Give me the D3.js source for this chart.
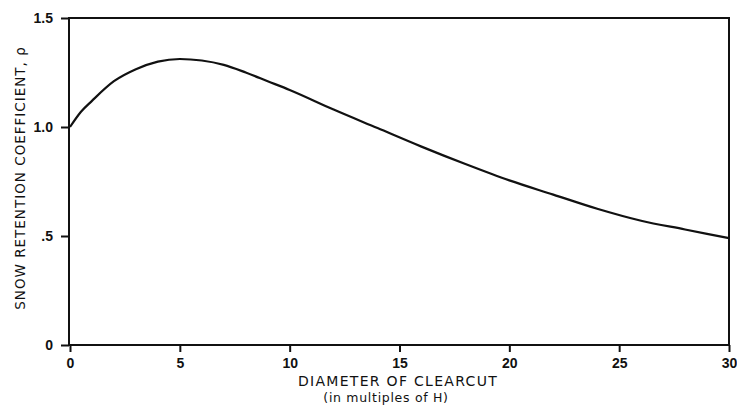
<!DOCTYPE html>
<html>
<head>
<meta charset="utf-8">
<script src="https://cdn.jsdelivr.net/npm/d3@7"></script>
<style>
  html, body { margin: 0; padding: 0; background: #fff; }
  text { font-family: "Liberation Sans", Arial, sans-serif; fill: #111; }
  .title { font-family: "DejaVu Sans", "Liberation Sans", sans-serif; }
</style>
</head>
<body>
<svg id="chart" width="737" height="406"></svg>
<script>
const diameter = [0, 0.5, 1, 2, 3, 4, 5, 6, 7, 8, 9, 10, 12, 14, 16, 18, 20, 22, 24, 26, 28, 30];
const rho = [1.00, 1.07, 1.12, 1.21, 1.265, 1.30, 1.312, 1.305, 1.285, 1.25, 1.21, 1.17, 1.08, 0.995, 0.91, 0.83, 0.755, 0.69, 0.625, 0.57, 0.53, 0.49];
const xTicks = [0, 5, 10, 15, 20, 25, 30];
const yTicks = [0, 0.5, 1.0, 1.5];
const yTickLabels = ["0", ".5", "1.0", "1.5"];
const xTitle = "DIAMETER OF CLEARCUT";
const xSubtitle = "(in multiples of H)";
const yTitle = "SNOW RETENTION COEFFICIENT, ρ";

const svg = d3.select("#chart");
const plotLeft = 69, plotRight = 729, plotTop = 18, plotBottom = 345;
const x = d3.scaleLinear().domain([0, 30]).range([plotLeft + 1, plotRight]);
const y = d3.scaleLinear().domain([0, 1.5]).range([plotBottom, plotTop]);

// frame
svg.append("rect")
  .attr("x", plotLeft).attr("y", plotTop)
  .attr("width", plotRight - plotLeft).attr("height", plotBottom - plotTop)
  .attr("fill", "none").attr("stroke", "#111").attr("stroke-width", 2);

// x axis
const xAxis = svg.append("g").attr("transform", `translate(0,${plotBottom})`)
  .call(d3.axisBottom(x).tickValues(xTicks).tickFormat(d3.format("d")).tickSize(7).tickPadding(6));
xAxis.select(".domain").remove();
xAxis.selectAll("line").attr("stroke", "#111").attr("stroke-width", 2);
xAxis.selectAll("text").style("font-size", "14px").style("font-weight", "bold").attr("fill", "#111");

// y axis
const yAxis = svg.append("g").attr("transform", `translate(${plotLeft},0)`)
  .call(d3.axisLeft(y).tickValues(yTicks).tickFormat((d, i) => yTickLabels[i]).tickSize(8).tickPadding(8));
yAxis.select(".domain").remove();
yAxis.selectAll("line").attr("stroke", "#111").attr("stroke-width", 2);
yAxis.selectAll("text").style("font-size", "14px").style("font-weight", "bold").attr("fill", "#111");

// curve
const line = d3.line()
  .x((d, i) => x(diameter[i]))
  .y(d => y(d))
  .curve(d3.curveMonotoneX);
svg.append("path")
  .datum(rho)
  .attr("d", line)
  .attr("fill", "none")
  .attr("stroke", "#111")
  .attr("stroke-width", 2.2);

// titles
svg.append("text").attr("class", "title")
  .attr("x", 398).attr("y", 386)
  .attr("text-anchor", "middle")
  .style("font-size", "14px")
  .style("letter-spacing", "1.3px")
  .text(xTitle);
svg.append("text").attr("class", "title")
  .attr("x", 386).attr("y", 402)
  .attr("text-anchor", "middle")
  .style("font-size", "12.5px")
  .style("letter-spacing", "0.7px")
  .text(xSubtitle);
svg.append("text").attr("class", "title")
  .attr("transform", "translate(25,178) rotate(-90)")
  .attr("text-anchor", "middle")
  .style("font-size", "13.5px")
  .style("letter-spacing", "1px")
  .text(yTitle);
</script>
</body>
</html>
